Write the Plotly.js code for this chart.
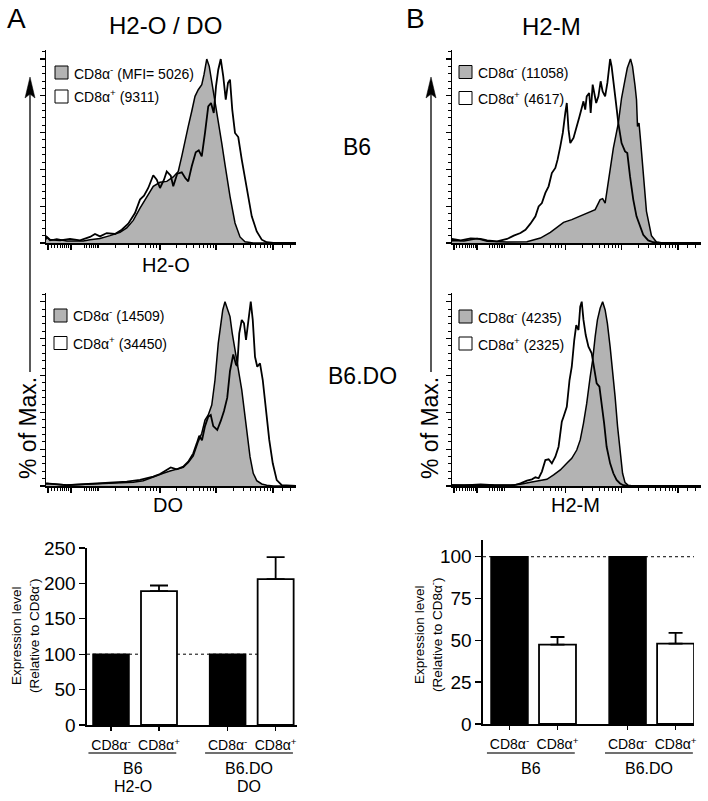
<!DOCTYPE html>
<html><head><meta charset="utf-8">
<script src="https://cdn.plot.ly/plotly-3.0.1.min.js"></script>
<style>html,body{margin:0;padding:0;background:#fff}#chart{width:708px;height:801px}</style>
</head><body><div id="chart"></div>
<script>
// ---------------- DATA ----------------
// Histograms: x = fluorescence channel (0-1000 display scale), y = % of max
const TL_negX = [0,3,16,43,83,149,176,216,256,296,323,349,376,403,429,456,483,509,529,543,556,569,583,596,609,623,632,643,653,663,676,689,703,716,736,756,776,796,829,1000];
const TL_negY = [2,3.3,1.4,2.2,1.1,1.1,1.8,2.5,4.0,5.8,8.2,12.3,19.0,25.0,30.8,33.0,33.5,35.9,38.9,47.1,56.2,63.4,71.6,79.7,83.3,86.1,91.5,100,96.0,87.9,77.9,66.1,54.3,42.6,25.4,10.9,3.3,0.7,0,0];
const TL_posX = [0,3,16,56,96,136,176,196,216,243,276,303,329,356,376,392,409,429,443,456,472,483,499,509,525,543,557,569,583,599,611,623,636,649,660,671,680,689,699,709,719,728,736,745,756,769,783,803,823,843,863,883,909,1000];
const TL_posY = [2,3.3,1.8,1.4,2.2,1.4,3.3,4.9,3.6,5.4,4.9,7.2,10.5,16.3,23.6,25.7,29.9,36.8,34.4,29.9,34.4,38.9,36.6,30.8,37.7,38.4,35.3,33.5,41.7,49.3,50.4,47.1,59.8,74.3,76.1,70.7,85.1,94.2,100,90.6,77.9,87.0,88.8,72.5,59.8,57.6,45.3,29.0,14.5,6.3,1.8,0.4,0,0];

const TR_negX = [0,1,48,101,141,221,301,355,395,421,448,481,515,548,575,595,605,615,628,648,668,681,695,704,717,725,735,741,745,751,757,768,781,801,821,848,1000];
const TR_negY = [1,1.4,1.1,2.4,0.9,0.5,0.7,2.7,5.8,8.7,11.2,12.7,14.5,16.3,18.1,23.6,24.1,21.7,33.5,51.6,65.2,78.8,88.8,95.1,100,96.0,85.5,77.9,63.4,65.2,56.2,38.0,17.2,4.0,0.5,0,0];
const TR_posX = [0,1,35,75,115,141,181,221,248,275,295,315,335,348,361,375,388,401,415,424,435,445,455,461,468,475,488,501,512,521,528,535,541,551,557,565,572,579,588,597,605,615,624,635,641,648,657,668,681,695,704,715,728,741,755,768,788,808,835,1000];
const TR_posY = [1,2.2,1.4,2.5,2.2,1.4,0.9,2.2,4.0,5.4,7.2,10.5,14.5,19.9,21.7,27.2,30.8,38.0,40.8,45.3,52.5,59.8,70.7,76.1,61.6,54.3,57.1,64.3,68.8,73.4,77.0,72.5,79.7,81.5,70.7,86.1,81.5,76.1,79.7,87.9,82.4,79.7,87.0,100,96.0,87.0,77.9,65.2,54.3,49.8,48.9,36.2,23.6,14.5,9.1,4.5,1.4,0.4,0,0];

const BL_negX = [0,3,83,216,283,349,389,429,469,496,523,549,569,589,607,623,636,649,663,676,689,699,707,716,725,736,745,756,769,783,793,803,816,829,843,863,883,909,1000];
const BL_negY = [1,1.4,0.5,1.1,1.4,2.0,2.9,5.1,6.9,8.1,9.0,10.1,12.7,16.3,23.5,28.6,35.8,38.5,43.9,57.5,77.4,89.2,95.5,100,95.8,91.9,82.8,73.8,62.9,52.1,41.2,30.4,15.9,6.9,2.9,1.1,0.4,0,0];
const BL_posX = [0,3,83,216,283,323,376,429,456,499,523,549,569,589,603,613,624,636,649,659,669,685,699,712,725,736,749,760,765,773,783,792,800,809,819,827,836,845,856,867,880,893,907,923,943,976,1000];
const BL_posY = [1,1.4,0.4,1.4,2.0,2.4,3.3,5.1,6.5,10.1,9.0,10.5,13.2,17.7,23.1,27.3,24.8,32.5,37.6,38.5,32.5,30.4,35.3,40.7,47.9,62.4,71.4,65.9,65.1,82.8,90.1,88.3,79.2,90.1,100,90.1,70.1,64.7,66.5,57.5,41.2,25.0,12.3,3.2,0.5,0,0];

const BR_negX = [0,1,48,115,168,235,275,315,355,381,408,435,461,481,501,515,528,541,555,565,575,584,595,605,615,624,635,645,655,665,675,685,695,708,728,1000];
const BR_negY = [0.5,0.5,0.4,0.9,0.5,0.4,0.9,2.0,2.9,3.6,6.0,8.7,12.3,15.0,19.5,25.0,34.0,44.8,59.3,68.4,81.0,90.1,96.4,100,95.5,88.2,75.6,62.9,48.5,32.2,17.7,6.9,1.8,0.4,0,0];
const BR_posX = [0,1,75,168,248,275,301,321,335,348,361,375,388,401,415,428,441,448,461,472,481,491,499,508,515,521,528,537,548,561,571,581,592,601,611,621,635,648,661,675,688,708,1000];
const BR_posY = [0.5,0.5,0.4,0.5,0.4,1.4,2.9,3.6,4.7,4.2,7.8,14.1,14.5,12.3,15.9,21.3,34.9,37.6,43.0,57.5,64.7,79.2,87.3,84.6,97.3,100,90.1,81.9,75.6,72.0,62.9,55.7,53.9,44.8,34.0,21.3,12.3,6.9,3.3,1.4,0.4,0,0];

// MFI values in legends (TL, TR, BL, BR)
const mfiNeg = [5026, 11058, 14509, 4235];
const mfiPos = [9311, 4617, 34450, 2325];

// Histogram axis tick positions (channel units)
const histMajorTicks = [8, 100, 456, 680, 908];
const histMinorTicks = [20,32,44,56,64,72,80,88,96,152,162,172,182,190,198,204,210,276,328,368,396,416,428,440,523,563,591,613,630,645,658,670,749,789,817,839,857,873,886,898,944,977];

// Bar charts
const barGroups = ['B6', 'B6.DO'];
const barCats = ['CD8α<sup>-</sup>', 'CD8α<sup>+</sup>'];
const markersA = ['H2-O', 'DO'];
const A_neg = [100, 100];
const A_pos = [189, 206];
const A_posErr = [8, 31];
const B_neg = [100, 100];
const B_pos = [47.5, 48];
const B_posErr = [4.5, 6.5];
const A_yTicks = [0, 50, 100, 150, 200, 250];
const B_yTicks = [0, 25, 50, 75, 100];

// ---------------- LAYOUT HELPERS ----------------
const FONT = 'Liberation Sans, Arial, Helvetica, sans-serif';
const W = 708, H = 801;
const fx = p => p / W;
const fy = p => 1 - p / H;
const ax = i => (i === 1 ? '' : String(i));

const traces = [];
const layout = {
  width: W, height: H, margin: {l: 0, r: 0, t: 0, b: 0},
  paper_bgcolor: '#fff', plot_bgcolor: 'rgba(0,0,0,0)',
  showlegend: false, barmode: 'overlay',
  font: {family: FONT, color: '#000'},
  shapes: [], annotations: []
};
function ann(o) {
  layout.annotations.push(Object.assign({showarrow: false, xref: 'paper', yref: 'paper', xanchor: 'center', yanchor: 'middle',
    font: {family: FONT, size: 14, color: '#000'}}, o));
}

// ---------------- HISTOGRAMS ----------------
const hists = [
  {i: 1, xd: [46, 296], yd: [50, 243], top: 104.9, neg: [TL_negX, TL_negY], pos: [TL_posX, TL_posY], leg: {bx: 55, tx: 72, r1: 72.5, r2: 96.5}, k: 0},
  {i: 2, xd: [452, 701], yd: [50, 243], top: 104.9, neg: [TR_negX, TR_negY], pos: [TR_posX, TR_posY], leg: {bx: 459, tx: 476, r1: 72, r2: 98}, k: 1},
  {i: 3, xd: [46, 296], yd: [293, 486], top: 104.7, neg: [BL_negX, BL_negY], pos: [BL_posX, BL_posY], leg: {bx: 54, tx: 71, r1: 315.5, r2: 343}, k: 2},
  {i: 4, xd: [452, 701], yd: [293, 486], top: 104.7, neg: [BR_negX, BR_negY], pos: [BR_posX, BR_posY], leg: {bx: 459, tx: 476, r1: 316.5, r2: 343.5}, k: 3}
];
hists.forEach(h => {
  const xa = 'x' + ax(h.i), ya = 'y' + ax(h.i);
  traces.push({type: 'scatter', mode: 'lines', x: h.neg[0], y: h.neg[1], xaxis: xa, yaxis: ya,
    fill: 'tozeroy', fillcolor: '#b3b3b3', line: {color: '#000', width: 1.5}, hoverinfo: 'skip'});
  traces.push({type: 'scatter', mode: 'lines', x: h.pos[0], y: h.pos[1], xaxis: xa, yaxis: ya,
    line: {color: '#000', width: 1.8}, hoverinfo: 'skip'});
  layout['xaxis' + ax(h.i)] = {
    domain: [fx(h.xd[0]), fx(h.xd[1])], anchor: ya, range: [0, 1000],
    showline: true, linecolor: '#000', linewidth: 1.8, showgrid: false, zeroline: false,
    ticks: 'outside', ticklen: 5, tickwidth: 1.2, tickcolor: '#000',
    tickmode: 'array', tickvals: histMajorTicks, showticklabels: false, fixedrange: true,
    minor: {tickmode: 'array', tickvals: histMinorTicks, ticks: 'outside', ticklen: 3, tickwidth: 1, tickcolor: '#000', showgrid: false}
  };
  layout['yaxis' + ax(h.i)] = {
    domain: [fy(h.yd[1]), fy(h.yd[0])], anchor: xa, range: [0, h.top],
    showline: true, linecolor: '#000', linewidth: 1.4, showgrid: false, zeroline: false,
    ticks: 'outside', ticklen: 5, tickwidth: 1.2, tickcolor: '#000',
    tick0: 0, dtick: 20, showticklabels: false, fixedrange: true,
    minor: {tick0: 0, dtick: 4, ticks: 'outside', ticklen: 2.5, tickwidth: 1, tickcolor: '#000', showgrid: false}
  };
  // legend boxes & text
  const L = h.leg;
  [[L.r1, '#b3b3b3'], [L.r2, '#ffffff']].forEach(([r, c]) => {
    layout.shapes.push({type: 'rect', xref: 'paper', yref: 'paper', x0: fx(L.bx), x1: fx(L.bx + 13),
      y0: fy(r + 6.5), y1: fy(r - 6.5), fillcolor: c, line: {color: '#000', width: 1}});
  });
  const negTxt = 'CD8α<sup>-</sup> (' + (h.k === 0 ? 'MFI= ' : '') + mfiNeg[h.k] + ')';
  const posTxt = 'CD8α<sup>+</sup> (' + mfiPos[h.k] + ')';
  ann({x: fx(L.tx), y: fy(L.r1), xanchor: 'left', text: negTxt, font: {family: FONT, size: 14}});
  ann({x: fx(L.tx), y: fy(L.r2), xanchor: 'left', text: posTxt, font: {family: FONT, size: 14}});
});

// ---------------- BAR CHARTS ----------------
function barChart(i, xd, yd, yr, yTicks, neg, pos, err, gap, bw, capW, firstPx) {
  const xa = 'x' + i, ya = 'y' + i;
  const xNeg = barGroups.map((g, k) => k * gap);
  const xPos = barGroups.map((g, k) => k * gap + 1);
  traces.push({type: 'bar', x: xNeg, y: neg, xaxis: xa, yaxis: ya, width: bw,
    marker: {color: '#000', line: {color: '#000', width: 1.5}}, hoverinfo: 'skip'});
  traces.push({type: 'bar', x: xPos, y: pos, xaxis: xa, yaxis: ya, width: bw,
    marker: {color: '#fff', line: {color: '#000', width: 1.8}}, hoverinfo: 'skip',
    error_y: {type: 'data', array: err, arrayminus: err.map(() => 0), symmetric: false, color: '#000', thickness: 1.8, width: capW}});
  const pxPerUnit = 48;
  const left = -(firstPx - xd[0]) / pxPerUnit;
  const tv = [], tt = [];
  barGroups.forEach((g, k) => { tv.push(xNeg[k], xPos[k]); tt.push(barCats[0], barCats[1]); });
  layout['xaxis' + i] = {
    domain: [fx(xd[0]), fx(xd[1])], anchor: ya, range: [left, left + (xd[1] - xd[0]) / pxPerUnit],
    showline: true, linecolor: '#000', linewidth: 1.6, showgrid: false, zeroline: false,
    ticks: 'outside', ticklen: 4, tickwidth: 1.2, tickcolor: '#000', ticklabelstandoff: 3,
    tickmode: 'array', tickvals: tv, ticktext: tt, tickfont: {family: FONT, size: 14}, fixedrange: true
  };
  layout['yaxis' + i] = {
    domain: [fy(yd[1]), fy(yd[0])], anchor: xa, range: yr,
    showline: true, linecolor: '#000', linewidth: 1.6, showgrid: false, zeroline: false,
    ticks: 'outside', ticklen: 6, tickwidth: 1.4, tickcolor: '#000',
    tickmode: 'array', tickvals: yTicks, tickfont: {family: FONT, size: 19}, fixedrange: true
  };
  // dotted reference line at 100
  layout.shapes.push({type: 'line', layer: 'below', xref: xa + ' domain', yref: ya, x0: 0, x1: 1, y0: 100, y1: 100,
    line: {color: '#000', width: 1, dash: 'dot'}});
  // group underlines
  barGroups.forEach((g, k) => {
    const c = (xNeg[k] + xPos[k]) / 2;
    layout.shapes.push({type: 'line', xref: xa, yref: 'paper', x0: c - 0.97, x1: c + 0.86, y0: fy(753), y1: fy(753),
      line: {color: '#707070', width: 2}});
  });
  return barGroups.map((g, k) => (xNeg[k] + xPos[k]) / 2);
}
const cA = barChart(5, [87, 297], [548, 725], [0, 250], A_yTicks, A_neg, A_pos, A_posErr, 2.43, 0.75, 9, 111);
const cB = barChart(6, [483, 694], [540, 724], [0, 110], B_yTicks, B_neg, B_pos, B_posErr, 2.46, 0.77, 7, 509.5);
barGroups.forEach((g, k) => {
  ann({xref: 'x5', x: cA[k] - 0.05, y: fy(768), text: g, font: {family: FONT, size: 16}});
  ann({xref: 'x5', x: cA[k] - 0.05, y: fy(786), text: markersA[k], font: {family: FONT, size: 16}});
  ann({xref: 'x6', x: cB[k] - 0.05, y: fy(768), text: g, font: {family: FONT, size: 16}});
});
const yTitle = 'Expression level<br>(Relative to CD8α<sup>-</sup>)';
ann({x: fx(25), y: fy(636), textangle: -90, text: yTitle, font: {family: FONT, size: 13.5}});
ann({x: fx(428), y: fy(635), textangle: -90, text: yTitle, font: {family: FONT, size: 13.5}});

// ---------------- TEXT LABELS ----------------
ann({x: fx(5), y: fy(19), xanchor: 'left', text: 'A', font: {family: FONT, size: 28}});
ann({x: fx(404), y: fy(19), xanchor: 'left', text: 'B', font: {family: FONT, size: 28}});
ann({x: fx(165), y: fy(26), text: 'H2-O / DO', font: {family: FONT, size: 24}});
ann({x: fx(551), y: fy(27), text: 'H2-M', font: {family: FONT, size: 24}});
ann({x: fx(357), y: fy(147), text: 'B6', font: {family: FONT, size: 23}});
ann({x: fx(362), y: fy(376), text: 'B6.DO', font: {family: FONT, size: 23}});
ann({x: fx(166), y: fy(265), text: 'H2-O', font: {family: FONT, size: 20}});
ann({x: fx(168), y: fy(505), text: 'DO', font: {family: FONT, size: 20}});
ann({x: fx(575), y: fy(505), text: 'H2-M', font: {family: FONT, size: 20}});

// "% of Max." vertical arrows
[[30, 28], [431, 430]].forEach(([lx, tx]) => {
  ann({x: fx(tx), y: fy(428), textangle: -90, text: '% of Max.', font: {family: FONT, size: 23}});
  layout.shapes.push({type: 'line', xref: 'paper', yref: 'paper', x0: fx(lx), x1: fx(lx), y0: fy(92), y1: fy(372),
    line: {color: '#000', width: 1.3}});
  layout.shapes.push({type: 'path', xref: 'paper', yref: 'paper',
    path: 'M ' + fx(lx) + ',' + fy(77) + ' L ' + fx(lx + 5) + ',' + fy(98) + ' L ' + fx(lx) + ',' + fy(94) +
          ' L ' + fx(lx - 5) + ',' + fy(98) + ' Z',
    fillcolor: '#000', line: {color: '#000', width: 0.5}});
});

Plotly.newPlot('chart', traces, layout, {displayModeBar: false, staticPlot: true});
</script>
</body></html>
